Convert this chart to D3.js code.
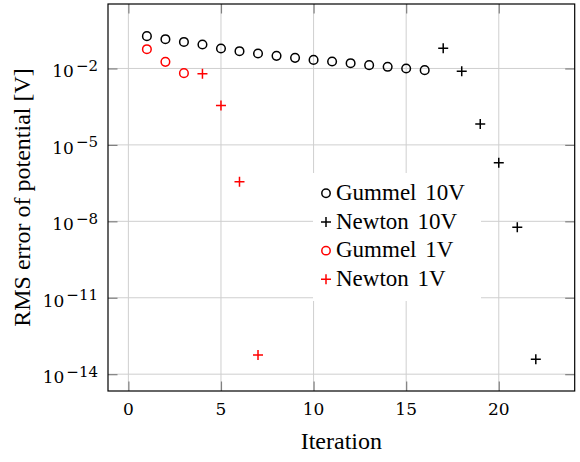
<!DOCTYPE html>
<html>
<head>
<meta charset="utf-8">
<script src="https://cdn.jsdelivr.net/npm/d3@7"></script>
<style>
  html, body { margin: 0; padding: 0; background: #fff; }
  svg { display: block; }
  text { font-family: "Liberation Serif", "Times New Roman", serif; fill: #000; }
</style>
</head>
<body>
<svg id="chart" width="580" height="462"></svg>
<script>
// ---- data ----
const gummel10Iter = [1,2,3,4,5,6,7,8,9,10,11,12,13,14,15,16];
const gummel10Err  = [0.185,0.141,0.110,0.0873,0.0608,0.0476,0.0387,0.0312,0.0261,0.0217,0.0188,0.0161,0.0135,0.0116,0.0100,0.00857];
const newton10Iter = [17,18,19,20,21,22];
const newton10Err  = [0.0625,0.00783,6.55e-5,1.99e-6,5.82e-9,3.9e-14];
const gummel1Iter  = [1,2,3];
const gummel1Err   = [0.0571,0.0182,0.00655];
const newton1Iter  = [4,5,6,7];
const newton1Err   = [0.00614,3.54e-4,3.57e-7,5.6e-14];
const xTicks = [0,5,10,15,20];
const yTickExps = [-2,-5,-8,-11,-14];
const legendLabels = ["Gummel 10V","Newton 10V","Gummel 1V","Newton 1V"];

// ---- layout ----
const L = 108, R = 574.7, T = 4, B = 391;
const svg = d3.select("#chart");
const x = d3.scaleLinear().domain([-1.1, 24.1]).range([L, R]);
const y = d3.scaleLog().domain([Math.pow(10,-14.66), Math.pow(10,0.53)]).range([B, T]);

// grid
const grid = svg.append("g");
xTicks.forEach(t => grid.append("line").attr("x1", x(t)).attr("x2", x(t)).attr("y1", T).attr("y2", B)
  .attr("stroke", "#cfcfcf").attr("stroke-width", 1));
yTickExps.forEach(e => grid.append("line").attr("x1", L).attr("x2", R).attr("y1", y(Math.pow(10,e))).attr("y2", y(Math.pow(10,e)))
  .attr("stroke", "#cfcfcf").attr("stroke-width", 1));

// ticks (inward, both sides) using d3 axes
const tl = 9.5;
function styleAxis(g){
  g.select(".domain").remove();
  g.selectAll(".tick line").attr("stroke", "#808080").attr("stroke-width", 1.2);
  g.selectAll(".tick text").remove();
}
svg.append("g").attr("transform", `translate(0,${B})`)
  .call(d3.axisBottom(x).tickValues(xTicks).tickSize(-tl)).call(styleAxis);
svg.append("g").attr("transform", `translate(0,${T})`)
  .call(d3.axisTop(x).tickValues(xTicks).tickSize(-tl)).call(styleAxis);
const yTickVals = yTickExps.map(e => Math.pow(10,e));
svg.append("g").attr("transform", `translate(${L},0)`)
  .call(d3.axisLeft(y).tickValues(yTickVals).tickSize(-tl)).call(styleAxis);
svg.append("g").attr("transform", `translate(${R},0)`)
  .call(d3.axisRight(y).tickValues(yTickVals).tickSize(-tl)).call(styleAxis);

// tick labels
xTicks.forEach(t => svg.append("text").attr("x", x(t)).attr("y", B + 24)
  .style("font-family", "'DejaVu Serif', serif").style("font-size", "17px")
  .attr("text-anchor", "middle").text(t));
yTickExps.forEach(e => {
  const tx = svg.append("text").attr("x", 98).attr("y", y(Math.pow(10,e)) + 9)
    .style("font-family", "'DejaVu Serif', serif").style("font-size", "17px")
    .attr("text-anchor", "end");
  tx.append("tspan").text("10");
  tx.append("tspan").attr("dx", 2).attr("dy", -6.5).style("font-size", "15px").text("\u2212" + Math.abs(e));
});

// axis labels
svg.append("text").attr("x", (L+R)/2).attr("y", 449).attr("text-anchor", "middle")
  .attr("font-size", 24).text("Iteration");
svg.append("text").attr("transform", `translate(30,${(T+B)/2}) rotate(-90)`).attr("text-anchor", "middle")
  .attr("font-size", 24).text("RMS error of potential [V]");

// marks
const plot = svg.append("g");
function circles(xs, ys, color){
  plot.selectAll(null).data(xs.map((v,i)=>[v,ys[i]])).enter().append("circle")
    .attr("cx", d => x(d[0])).attr("cy", d => y(d[1])).attr("r", 4.3)
    .attr("fill", "none").attr("stroke", color).attr("stroke-width", 1.5);
}
function pluses(xs, ys, color){
  const s = 5;
  plot.selectAll(null).data(xs.map((v,i)=>[v,ys[i]])).enter().append("path")
    .attr("d", d => { const cx = x(d[0]), cy = y(d[1]);
      return `M${cx-s},${cy}H${cx+s}M${cx},${cy-s}V${cy+s}`; })
    .attr("fill", "none").attr("stroke", color).attr("stroke-width", 1.5);
}
circles(gummel10Iter, gummel10Err, "#000");
pluses(newton10Iter, newton10Err, "#000");
circles(gummel1Iter, gummel1Err, "#ff0000");
pluses(newton1Iter, newton1Err, "#ff0000");

// frame
svg.append("rect").attr("x", L).attr("y", T).attr("width", R-L).attr("height", B-T)
  .attr("fill", "none").attr("stroke", "#000").attr("stroke-width", 1.2);

// legend
const lg = svg.append("g");
lg.append("rect").attr("x", 313).attr("y", 173).attr("width", 168).attr("height", 128).attr("fill", "#fff");
const legendKinds = [["circle","#000"],["plus","#000"],["circle","#ff0000"],["plus","#ff0000"]];
legendLabels.forEach((lab, i) => {
  const by = 200 + i * 28.67;
  const cx = 326, cy = by - 6.7;
  const [kind, col] = legendKinds[i];
  if (kind === "circle") {
    lg.append("circle").attr("cx", cx).attr("cy", cy).attr("r", 4.2).attr("fill", "none")
      .attr("stroke", col).attr("stroke-width", 1.5);
  } else {
    const s = 5;
    lg.append("path").attr("d", `M${cx-s},${cy}H${cx+s}M${cx},${cy-s}V${cy+s}`)
      .attr("stroke", col).attr("stroke-width", 1.5).attr("fill", "none");
  }
  lg.append("text").attr("x", 336).attr("y", by).attr("font-size", 23)
    .attr("word-spacing", 3).text(lab);
});
</script>
</body>
</html>
